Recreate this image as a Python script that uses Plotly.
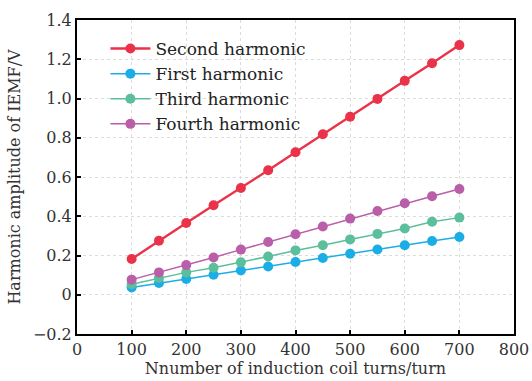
import plotly.graph_objects as go

turns = [100, 150, 200, 250, 300, 350, 400, 450, 500, 550, 600, 650, 700]
second = [0.182, 0.275, 0.366, 0.456, 0.544, 0.634, 0.726, 0.818, 0.907, 0.998, 1.09, 1.18, 1.272]
first = [0.037, 0.060, 0.080, 0.102, 0.124, 0.144, 0.167, 0.187, 0.209, 0.231, 0.252, 0.274, 0.294]
third = [0.054, 0.085, 0.114, 0.138, 0.165, 0.195, 0.226, 0.252, 0.282, 0.310, 0.338, 0.372, 0.393]
fourth = [0.077, 0.114, 0.151, 0.190, 0.230, 0.269, 0.308, 0.348, 0.388, 0.427, 0.466, 0.502, 0.539]

series = [
    ("Second harmonic", second, "#EA3349", 2.4),
    ("First harmonic", first, "#1BAEE6", 1.5),
    ("Third harmonic", third, "#5BBF9B", 1.5),
    ("Fourth harmonic", fourth, "#BA5EA9", 1.5),
]

ytickvals = [-0.2, 0, 0.2, 0.4, 0.6, 0.8, 1.0, 1.2, 1.4]
yticktext = ["\u22120.2", "0", "0.2", "0.4", "0.6", "0.8", "1.0", "1.2", "1.4"]
xtickvals = [0, 100, 200, 300, 400, 500, 600, 700, 800]

font_family = "DejaVu Serif"

fig = go.Figure()
for name, vals, color, lw in series:
    fig.add_trace(go.Scatter(
        x=turns, y=vals, name=name, mode="lines+markers",
        line=dict(color=color, width=lw),
        marker=dict(color=color, size=10),
    ))

fig.update_layout(
    width=532, height=381,
    margin=dict(l=77, r=18, t=20, b=47),
    paper_bgcolor="white", plot_bgcolor="white",
    font=dict(family=font_family, size=16, color="#222"),
    showlegend=True,
    legend=dict(
        x=0.065, y=0.965, xanchor="left", yanchor="top",
        bgcolor="rgba(0,0,0,0)", font=dict(family=font_family, size=17, color="#222"),
        itemwidth=40, tracegroupgap=0,
    ),
    xaxis=dict(
        range=[0, 800], tickvals=xtickvals, automargin=False,
        showline=True, linecolor="black", linewidth=2, mirror=True,
        ticks="inside", ticklen=4, tickwidth=2, tickcolor="black",
        showgrid=True, gridcolor="#dcdcdc", griddash="dot", gridwidth=1,
        zeroline=False,
        tickfont=dict(family=font_family, size=16, color="#333"),
        title=dict(text="Nnumber of induction coil turns/turn", font=dict(family=font_family, size=16, color="#333"), standoff=0),
    ),
    yaxis=dict(
        range=[-0.2, 1.4], tickvals=ytickvals, ticktext=yticktext, automargin=False,
        showline=True, linecolor="black", linewidth=2, mirror=True,
        ticks="inside", ticklen=4, tickwidth=2, tickcolor="black",
        showgrid=True, gridcolor="#dcdcdc", griddash="dot", gridwidth=1,
        zeroline=False,
        tickfont=dict(family=font_family, size=16, color="#333"),
        title=dict(text="Harmonic amplitude of IEMF/V", font=dict(family=font_family, size=16, color="#333"), standoff=8),
    ),
)

fig.write_html("out.html")
